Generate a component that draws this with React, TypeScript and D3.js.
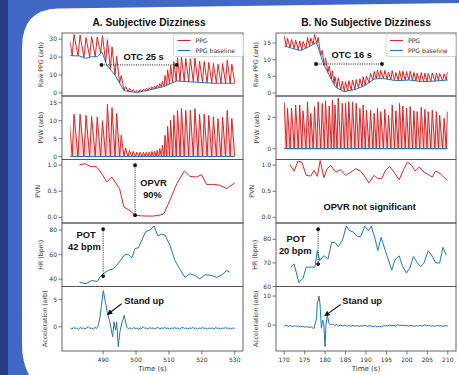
import * as d3 from "d3";

// ---------- data: A (subjective dizziness) ----------
const BASE_A: [number, number][] = [
  [480, 20.8], [482.8, 20.6], [484.8, 19.3], [486.5, 20.2], [488.2, 20.2], [489.6, 22.9],
  [491.1, 15.6], [493.6, 10.0], [496.3, 1.3], [500.2, 0.2], [504.2, 1.7], [508.3, 3.5],
  [512.4, 6.7], [515.4, 6.3], [519.4, 5.9], [523.5, 5.4], [530, 5.4],
];
const BEAT_T_A = [
  479.6, 481.15, 483.0, 484.8, 486.5, 488.2, 489.8, 491.3, 492.7, 494.1, 495.5, 496.8, 498.0, 499.1,
  500.2, 501.2, 502.2, 503.1, 504.0, 504.8, 505.6, 506.4, 507.2, 508.0, 508.8, 509.6, 510.5, 511.5,
  512.6, 513.8, 515.1, 516.5, 517.9, 519.3, 520.7, 522.1, 523.5, 524.9, 526.3, 527.7, 529.1, 530.5,
];
const PVW_A = [
  11.5, 11.8, 11.8, 11.5, 11.2, 11.0, 10.0, 14.6, 13.7, 12.0, 5.9, 2.4, 1.7, 1.4,
  1.2, 1.2, 1.2, 1.2, 1.3, 1.4, 1.5, 1.7, 2.2, 3.1, 5.9, 8.4, 10.1, 11.5,
  12.9, 13.4, 12.9, 12.9, 13.4, 11.8, 11.8, 11.5, 11.1, 10.6, 11.0, 12.9, 10.6, 11.0,
];
const PVN_A: [number, number][] = [
  [482.8, 1.007], [484.5, 1.027], [486.2, 0.975], [488.0, 0.97], [489.6, 0.836], [491.1, 0.677],
  [492.6, 0.772], [495.0, 0.551], [496.3, 0.2], [498.2, 0.125], [499.7, 0.044], [501.2, 0.03],
  [503.2, 0.025], [505.2, 0.025], [507.3, 0.044], [508.5, 0.076], [510.3, 0.329], [512.4, 0.646],
  [514.7, 0.886], [516.4, 0.785], [518.4, 0.772], [519.9, 0.817], [521.5, 0.627], [523.5, 0.633],
  [525.5, 0.614], [527.5, 0.551], [528.5, 0.595], [530, 0.66],
];
const HR_A: [number, number][] = [
  [482.8, 37.5], [484.8, 36.2], [486.5, 38.9], [488.2, 38.1], [489.0, 41.6], [490.0, 44.4],
  [491.6, 47.1], [493.1, 48.5], [494.1, 51.2], [496.6, 60], [497.6, 60.3], [498.7, 57.2],
  [499.7, 65], [500.7, 65.5], [502.9, 78.6], [504.2, 80], [505.5, 83.3], [506.6, 75.3],
  [507.6, 76.7], [508.8, 75.9], [510.3, 67.7], [511.8, 55.3], [513.4, 47.7], [514.9, 41.4],
  [516.4, 44.4], [517.9, 43], [519.4, 40.3], [521.0, 43.6], [523.0, 43], [524.5, 41.4],
  [526.3, 43.8], [527.5, 47.1], [528.5, 45.7],
];
const ACC_A: [number, number][] = [
  [480, -0.2], [480.5, -0.4], [481, -0.1], [481.5, -0.3], [482, -0.2], [482.5, -0.5], [483, -0.1],
  [483.5, -0.3], [484, -0.2], [484.5, -0.4], [485, -0.2], [485.5, 0.0], [486, -0.3], [486.5, -0.2],
  [487, -0.4], [487.5, -0.1], [488, -0.3], [488.5, 0.2], [489.05, 1.8], [489.5, 4.0], [490.05, 6.6],
  [490.5, 5.0], [490.9, 3.9], [491.3, 2.4], [491.9, 1.2], [492.4, -0.3], [492.9, -1.8], [493.3, 0.9],
  [493.8, -0.6], [494.1, 0.9], [494.6, -3.6], [495.1, -0.9], [495.8, 0.9], [496.4, 2.1], [497.2, -0.1],
  [497.7, -0.3], [498.2, -0.2], [498.7, -0.4], [499.2, -0.1], [499.7, -0.3], [500.2, -0.2], [500.7, -0.5],
  [501.2, -0.2], [501.7, -0.3], [502.2, 0.0], [502.7, -0.3], [503.2, -0.2], [503.7, -0.4], [504.2, -0.1],
  [504.7, -0.3], [505.2, -0.2], [505.7, -0.4], [506.2, -0.2], [506.7, -0.1], [507.2, -0.4], [507.7, -0.2],
  [508.2, -0.3], [508.7, -0.1], [509.2, -0.3], [509.7, -0.2], [510.2, -0.4], [510.7, -0.2], [511.2, -0.3],
  [511.7, -0.1], [512.2, -0.3], [512.7, -0.2], [513.2, -0.4], [513.7, -0.2], [514.2, -0.1], [514.7, -0.3],
  [515.2, -0.2], [515.7, -0.4], [516.2, -0.2], [516.7, -0.3], [517.2, -0.1], [517.7, -0.3], [518.2, -0.2],
  [518.7, -0.4], [519.2, -0.2], [519.7, -0.3], [520.2, -0.1], [520.7, -0.3], [521.2, -0.2], [521.7, -0.4],
  [522.2, -0.2], [522.7, -0.3], [523.2, -0.2], [523.7, -0.4], [524.2, -0.1], [524.7, -0.3], [525.2, -0.2],
  [525.7, -0.4], [526.2, -0.2], [526.7, -0.3], [527.2, -0.1], [527.7, -0.3], [528.2, -0.2], [528.7, -0.4],
  [529.2, -0.2], [529.7, -0.3], [530, -0.2],
];

// ---------- data: B (no subjective dizziness) ----------
const BASE_B: [number, number][] = [
  [170, 14.1], [172.0, 13.4], [174.0, 12.7], [176.1, 13.9], [177.9, 15.2], [179.7, 8.4],
  [181.0, 5.4], [182.6, 1.7], [184.6, 0.4], [187.5, 1.1], [189.9, 2.4], [192.0, 4.2],
  [194.0, 4.4], [197.3, 3.7], [200.5, 3.9], [203.8, 3.4], [207.0, 3.6], [210, 3.9],
];
const BEAT_T_B = [
  170.0, 170.8, 171.8, 172.8, 173.8, 174.6, 175.7, 176.5, 177.4, 178.3, 179.3, 180.1,
  181.0, 181.8, 182.4, 183.2, 184.2, 185.0, 185.8, 186.7, 187.6, 188.5, 189.3, 190.1,
  191.1, 192.0, 192.8, 193.6, 194.6, 195.5, 196.4, 197.3, 198.2, 199.0, 199.9, 200.8,
  201.7, 202.5, 203.5, 204.4, 205.2, 206.2, 207.2, 208.0, 209.1, 209.9,
];
const PVW_B = [
  2.95, 2.58, 2.58, 2.8, 2.8, 2.43, 3.0, 2.26, 2.69, 3.0, 2.9, 3.07,
  2.73, 3.12, 2.8, 3.23, 2.9, 2.9, 3.0, 3.0, 2.9, 2.58, 2.8, 2.47,
  2.47, 2.26, 2.58, 2.37, 2.52, 2.15, 2.8, 2.43, 2.9, 2.73, 2.58, 2.69,
  2.43, 2.37, 2.65, 2.52, 2.37, 2.47, 2.37, 2.15, 1.94, 2.37,
];
const PVN_B: [number, number][] = [
  [171.4, 1.013], [172.4, 0.886], [173.4, 1.076], [174.3, 1.057], [175.4, 0.804], [176.5, 0.791],
  [177.3, 0.899], [178.1, 0.785], [178.8, 1.089], [179.7, 0.76], [180.5, 0.932], [181.4, 0.994],
  [182.6, 0.867], [183.8, 0.912], [185.0, 0.804], [186.3, 0.867], [187.5, 0.932], [188.7, 0.886],
  [189.9, 0.76], [190.7, 0.658], [192.0, 0.804], [192.8, 0.741], [193.8, 0.741], [194.8, 0.899],
  [195.8, 0.975], [197.0, 0.848], [198.1, 0.722], [199.3, 0.932], [200.1, 1.057], [201.2, 0.994],
  [202.0, 0.886], [203.0, 0.962], [204.2, 0.867], [205.2, 0.823], [206.2, 0.772], [207.0, 0.886],
  [208.0, 0.848], [209.1, 0.76], [209.9, 0.709],
];
const HR_B: [number, number][] = [
  [171.6, 68.2], [172.4, 69.6], [173.6, 61.7], [174.6, 63.5], [175.4, 68.2], [176.7, 68.2],
  [177.5, 68.2], [178.1, 75.1], [178.7, 71.0], [179.7, 73.1], [180.7, 71.6], [181.6, 78.7],
  [182.4, 78.7], [183.2, 76.9], [184.2, 79.4], [185.2, 85.6], [186.0, 83.6], [186.8, 83.2],
  [187.9, 81.1], [188.7, 81.1], [189.7, 85.6], [190.6, 83.6], [191.3, 85.6], [192.2, 80.4],
  [192.9, 75.2], [193.7, 80.8], [194.8, 74.8], [196.3, 67.0], [197.1, 71.3], [198.1, 73.0],
  [198.9, 68.7], [199.9, 65.7], [200.7, 67.8], [201.6, 72.7], [202.5, 70.1], [203.4, 68.4],
  [204.2, 70.1], [205.2, 75.1], [206.0, 73.4], [207.0, 70.1], [208.0, 69.9], [208.8, 76.6],
  [209.6, 73.4],
];
const ACC_B: [number, number][] = [
  [170, -0.3], [170.5, -0.1], [171, -0.4], [171.5, -0.2], [172, -0.5], [172.5, -0.2], [173, -0.4],
  [173.5, -0.3], [174, -0.6], [174.5, -0.4], [175, -0.7], [175.5, -0.5], [176.07, -0.8], [176.6, -0.6],
  [177.0, -1.0], [177.3, -1.1], [177.9, 2.3], [178.1, 8.0], [178.35, 8.5], [178.5, 10.0], [178.75, 7.4],
  [179.1, -1.1], [179.4, 1.7], [179.65, 1.0], [180.0, -7.4], [180.2, 0.0], [180.55, 3.4], [180.95, 0.6],
  [181.3, 0.2], [181.8, 0.3], [182.3, -0.1], [182.8, 0.2], [183.3, -0.2], [183.8, 0.0], [184.3, -0.3],
  [184.8, -0.1], [185.3, -0.3], [185.8, -0.2], [186.3, -0.4], [186.8, -0.1], [187.3, -0.3], [187.8, -0.2],
  [188.3, -0.4], [188.8, -0.2], [189.3, -0.3], [189.8, -0.1], [190.3, -0.4], [190.8, -0.2], [191.3, -0.3],
  [191.8, -0.5], [192.3, -0.3], [192.8, -0.6], [193.3, -0.4], [193.8, -0.5], [194.3, -0.3], [194.8, -0.2],
  [195.3, -0.3], [195.8, 0.0], [196.3, -0.2], [196.8, -0.1], [197.3, -0.3], [197.8, 0.1], [198.3, -0.1],
  [198.8, 0.0], [199.3, -0.2], [199.8, -0.1], [200.3, -0.3], [200.8, -0.1], [201.3, -0.2], [201.8, -0.4],
  [202.3, -0.2], [202.8, -0.3], [203.3, -0.1], [203.8, -0.3], [204.3, 0.1], [204.8, -0.2], [205.3, -0.1],
  [205.8, -0.3], [206.3, -0.2], [206.8, -0.4], [207.3, -0.1], [207.8, -0.3], [208.3, -0.2], [208.8, -0.4],
  [209.3, -0.2], [210, -0.3],
];

const XTICKS_A = [490, 500, 510, 520, 530];
const XTICKS_B = [170, 175, 180, 185, 190, 195, 200, 205, 210];

// ---------- styling ----------
const RED = "#d62728";
const BLUE = "#1f77b4";
const AXIS = "#555";
const TXT = "#333";
const SANS = "DejaVu Sans, sans-serif";
const BOLD = "Liberation Sans, Arial, sans-serif";
const ROWS = [33, 96, 159.5, 223, 286.5, 351];

type Pt = [number, number];

interface Side {
  id: string;
  title: string;
  titleX: number;
  x0: number;
  x1: number;
  xDomain: [number, number];
  span: [number, number];
  xTicks: number[];
  base: Pt[];
  beats: number[];
  pvw: number[];
  pvn: Pt[];
  hr: Pt[];
  acc: Pt[];
  yDomains: [number, number][];
  yTicks: number[][];
  labelX: number[];
  legendX: number;
}

// zig-zag pulse wave built from per-beat peak times and amplitudes
function wave(ts: number[], amps: number[], base: (t: number) => number): Pt[] {
  const pts: Pt[] = [];
  ts.forEach((t, i) => {
    const gap = i > 0 ? t - ts[i - 1] : ts[1] - ts[0];
    const tr = t - gap * 0.35;
    pts.push([tr, base(tr)]);
    pts.push([t, base(t) + amps[i]]);
  });
  return pts;
}

const YLABELS = ["Raw PPG (arb)", "PVW (arb)", "PVN", "HR (bpm)", "Acceleration (arb)"];

function Column({ s }: { s: Side }) {
  const x = d3.scaleLinear().domain(s.xDomain).range([s.x0, s.x1]);
  const ys = s.yDomains.map((d, i) => d3.scaleLinear().domain(d).range([ROWS[i + 1], ROWS[i]]));
  const baseFn = d3.scaleLinear().domain(s.base.map((d) => d[0])).range(s.base.map((d) => d[1])).clamp(true);
  const ppg = wave(s.beats, s.pvw, baseFn);
  const pvwPts = wave(s.beats, s.pvw, () => 0);

  const line = (y: d3.ScaleLinear<number, number>) =>
    d3.line<Pt>().x((d) => x(d[0])).y((d) => y(d[1]));
  const area = d3.area<Pt>().x((d) => x(d[0])).y0(ys[1](0)).y1((d) => ys[1](d[1]));
  const fmt = (i: number) => (i === 2 ? d3.format(".1f") : d3.format("d"));
  const clip = `clip-${s.id}`;

  return (
    <g>
      <defs>
        <clipPath id={clip}>
          <rect x={x(s.span[0])} y={0} width={x(s.span[1]) - x(s.span[0])} height={375} />
        </clipPath>
      </defs>
      <text x={s.titleX} y={26} textAnchor="middle" fontFamily={BOLD} fontWeight="bold" fontSize={10.2} fill="#111">
        {s.title}
      </text>

      {/* data */}
      <g clipPath={`url(#${clip})`} fill="none" strokeWidth={1}>
        <path d={line(ys[0])(ppg) ?? ""} stroke={RED} />
        <path d={line(ys[0])(s.base) ?? ""} stroke={BLUE} />
        <path d={area(pvwPts) ?? ""} fill={RED} fillOpacity={0.2} stroke="none" />
        <path d={line(ys[1])(pvwPts) ?? ""} stroke={RED} />
        <line x1={x(s.span[0])} x2={x(s.span[1])} y1={ys[1](0)} y2={ys[1](0)} stroke={BLUE} strokeWidth={1.2} />
      </g>
      <path d={line(ys[2])(s.pvn) ?? ""} stroke={RED} fill="none" strokeWidth={1} />
      <path d={line(ys[3])(s.hr) ?? ""} stroke={BLUE} fill="none" strokeWidth={1} />
      <path d={line(ys[4])(s.acc) ?? ""} stroke={BLUE} fill="none" strokeWidth={1} />

      {/* frames, y ticks and labels */}
      {ys.map((y, i) => (
        <g key={i}>
          <rect x={s.x0} y={ROWS[i]} width={s.x1 - s.x0} height={ROWS[i + 1] - ROWS[i]} fill="none" stroke={AXIS} strokeWidth={0.9} />
          {s.yTicks[i].map((v) => (
            <g key={v} transform={`translate(${s.x0},${y(v)})`}>
              <line x1={-3.5} x2={0} stroke={AXIS} strokeWidth={0.8} />
              <text x={-5} dy="0.35em" textAnchor="end" fontFamily={SANS} fontSize={6} fill={TXT}>
                {fmt(i)(v)}
              </text>
            </g>
          ))}
          <text
            transform={`translate(${s.labelX[i]},${(ROWS[i] + ROWS[i + 1]) / 2}) rotate(-90)`}
            textAnchor="middle"
            fontFamily={SANS}
            fontSize={6.3}
            fill="#444"
          >
            {YLABELS[i]}
          </text>
        </g>
      ))}

      {/* x axis */}
      {s.xTicks.map((t) => (
        <g key={t} transform={`translate(${x(t)},${ROWS[5]})`}>
          <line y2={3.5} stroke={AXIS} strokeWidth={0.8} />
          <text y={10.5} textAnchor="middle" fontFamily={SANS} fontSize={6} fill={TXT}>
            {t}
          </text>
        </g>
      ))}
      <text x={(s.x0 + s.x1) / 2} y={371} textAnchor="middle" fontFamily={SANS} fontSize={7} fill={TXT}>
        Time (s)
      </text>

      {/* legend */}
      <g transform={`translate(${s.legendX},34)`}>
        <rect width={70} height={22.5} rx={2} fill="#fff" fillOpacity={0.85} stroke="#ccc" strokeWidth={0.8} />
        <line x1={4} x2={17} y1={6.5} y2={6.5} stroke={RED} strokeWidth={1.1} />
        <line x1={4} x2={17} y1={16.5} y2={16.5} stroke={BLUE} strokeWidth={1.1} />
        <text x={22} y={8.8} fontFamily={SANS} fontSize={6.1} fill={TXT}>PPG</text>
        <text x={22} y={18.8} fontFamily={SANS} fontSize={6.1} fill={TXT}>PPG baseline</text>
      </g>
    </g>
  );
}

function Marker({ x1, y1, x2, y2 }: { x1: number; y1: number; x2: number; y2: number }) {
  return (
    <g>
      <line x1={x1} y1={y1} x2={x2} y2={y2} stroke="#111" strokeWidth={1} strokeDasharray="1 1.3" />
      <circle cx={x1} cy={y1} r={1.9} fill="#111" />
      <circle cx={x2} cy={y2} r={1.9} fill="#111" />
    </g>
  );
}

function Note({ x, y, children }: { x: number; y: number; children: string }) {
  return (
    <text x={x} y={y} textAnchor="middle" fontFamily={BOLD} fontWeight="bold" fontSize={9.3} fill="#111">
      {children}
    </text>
  );
}

const SIDE_A: Side = {
  id: "a", title: "A. Subjective Dizziness", titleX: 149, x0: 62, x1: 243,
  xDomain: [477.5, 532.5], span: [480, 530], xTicks: XTICKS_A,
  base: BASE_A, beats: BEAT_T_A, pvw: PVW_A, pvn: PVN_A, hr: HR_A, acc: ACC_A,
  yDomains: [[-1.7, 33.4], [-0.84, 16.9], [-0.108, 1.108], [34, 85.75], [-4.4, 7.35]],
  yTicks: [[0, 10, 20, 30], [0, 5, 10, 15], [0, 0.5, 1], [40, 60, 80], [0, 5]],
  labelX: [43, 43, 39.5, 43, 47], legendX: 173.5,
};
const SIDE_B: Side = {
  id: "b", title: "B. No Subjective Dizziness", titleX: 366, x0: 276, x1: 456,
  xDomain: [168, 212], span: [170, 210], xTicks: XTICKS_B,
  base: BASE_B, beats: BEAT_T_B, pvw: PVW_B, pvn: PVN_B, hr: HR_B, acc: ACC_B,
  yDomains: [[-0.9, 18], [-0.69, 3.37], [-0.108, 1.108], [60, 86.9], [-8.9, 13.3]],
  yTicks: [[0, 5, 10, 15], [0, 2], [0, 0.5, 1], [60, 70, 80], [0, 10]],
  labelX: [257.5, 259, 254, 256.5, 257.5], legendX: 386,
};

export default function App() {
  const xa = d3.scaleLinear().domain(SIDE_A.xDomain).range([SIDE_A.x0, SIDE_A.x1]);
  const xb = d3.scaleLinear().domain(SIDE_B.xDomain).range([SIDE_B.x0, SIDE_B.x1]);
  const ya = SIDE_A.yDomains.map((d, i) => d3.scaleLinear().domain(d).range([ROWS[i + 1], ROWS[i]]));
  const yb = SIDE_B.yDomains.map((d, i) => d3.scaleLinear().domain(d).range([ROWS[i + 1], ROWS[i]]));

  return (
    <svg width={459} height={375} style={{ position: "absolute", left: 0, top: 0 }}>
      <rect width={459} height={375} fill="#4068c4" />
      <rect width={8} height={375} fill="#2a3d86" />
      <path d="M22 48 Q22 9 58 8.5 L459 3 L459 375 L29 375 Q22 362 22 345 Z" fill="#fff" />

      <Column s={SIDE_A} />
      <Column s={SIDE_B} />

      {/* A annotations */}
      <Marker x1={xa(489.5)} y1={ya[0](15.6)} x2={xa(512.3)} y2={ya[0](15.6)} />
      <Note x={xa(502.3)} y={60}>OTC 25 s</Note>
      <Marker x1={xa(499.7)} y1={ya[2](1.0)} x2={xa(499.7)} y2={ya[2](0.04)} />
      <Note x={xa(505.3)} y={185.5}>OPVR</Note>
      <Note x={xa(505.0)} y={197.5}>90%</Note>
      <Marker x1={xa(490)} y1={ya[3](80.8)} x2={xa(490)} y2={ya[3](42.5)} />
      <Note x={xa(484.8)} y={238}>POT</Note>
      <Note x={xa(484.3)} y={250}>42 bpm</Note>
      <text x={xa(496.4)} y={303.5} fontFamily={BOLD} fontWeight="bold" fontSize={9.3} fill="#111">Stand up</text>
      <line x1={xa(495.6)} y1={ya[4](4.2)} x2={xa(491.3)} y2={ya[4](2.24)} stroke="#111" strokeWidth={1.1} markerEnd="url(#arr)" />

      {/* B annotations */}
      <Marker x1={xb(177.8)} y1={yb[0](8.7)} x2={xb(193.9)} y2={yb[0](8.7)} />
      <Note x={xb(186.5)} y={57.5}>OTC 16 s</Note>
      <Note x={xb(190.9)} y={210}>OPVR not significant</Note>
      <Marker x1={xb(178.3)} y1={yb[3](84.3)} x2={xb(178.3)} y2={yb[3](69.5)} />
      <Note x={xb(172.9)} y={241.5}>POT</Note>
      <Note x={xb(172.7)} y={253.5}>20 bpm</Note>
      <text x={xb(184.2)} y={303.5} fontFamily={BOLD} fontWeight="bold" fontSize={9.3} fill="#111">Stand up</text>
      <line x1={xb(183.8)} y1={yb[4](7.1)} x2={xb(179.9)} y2={yb[4](3.2)} stroke="#111" strokeWidth={1.1} markerEnd="url(#arr)" />

      <defs>
        <marker id="arr" viewBox="0 0 10 10" refX={9} refY={5} markerWidth={5} markerHeight={5} orient="auto">
          <path d="M0 0 L10 5 L0 10 Z" fill="#111" />
        </marker>
      </defs>
    </svg>
  );
}
